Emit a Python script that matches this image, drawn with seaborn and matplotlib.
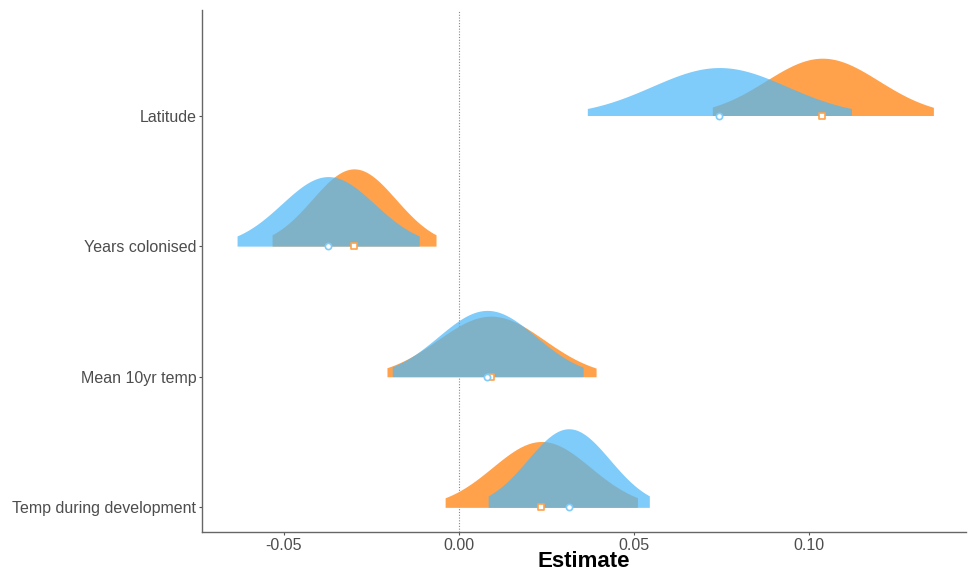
import numpy as np
import pandas as pd
import matplotlib
matplotlib.use("Agg")
import matplotlib.pyplot as plt
import seaborn as sns

# terms, top to bottom
terms = ["Latitude", "Years colonised", "Mean 10yr temp", "Temp during development"]

# model 1 (orange): estimate and 95% interval
orange_est = [0.1037, -0.0300, 0.0091, 0.0235]
orange_lo = [0.0723, -0.0534, -0.0206, -0.0040]
orange_hi = [0.1354, -0.0066, 0.0391, 0.0509]

# model 2 (blue): estimate and 95% interval
blue_est = [0.0743, -0.0374, 0.0080, 0.0313]
blue_lo = [0.0366, -0.0634, -0.0191, 0.0083]
blue_hi = [0.1120, -0.0114, 0.0354, 0.0543]

x_ticks = [-0.05, 0.00, 0.05, 0.10]
x_ticklabels = ["-0.05", "0.00", "0.05", "0.10"]

sns.set_theme(style="white")
plt.rcParams['font.family'] = ['Liberation Sans', 'DejaVu Sans']

fig = plt.figure(figsize=(9.69, 5.71), dpi=100)
ax = fig.add_axes([0.2085, 0.068, 0.788, 0.915])

n = len(terms)
ypos = {t: n - 1 - i for i, t in enumerate(terms)}
scale = 0.0177

models = [
    ("orange", orange_est, orange_lo, orange_hi, "#FFA24B", 1.0, "s", "#FFA24B"),
    ("blue", blue_est, blue_lo, blue_hi, (78 / 255, 183 / 255, 248 / 255), 0.72, "o", "#7FCBFB"),
]

points = []
for name, est, lo, hi, fc, alpha, mk, ec in models:
    for t, m, l, h in zip(terms, est, lo, hi):
        sd = (h - l) / (2 * 1.96)
        xs = np.linspace(l, h, 300)
        dens = np.exp(-0.5 * ((xs - m) / sd) ** 2) / (sd * np.sqrt(2 * np.pi))
        y0 = ypos[t]
        ax.fill_between(xs, y0, y0 + dens * scale, color=fc, alpha=alpha,
                        linewidth=0, zorder=2)
        points.append({"model": name, "term": t, "est": m, "y": y0})

pts = pd.DataFrame(points)
for name, est, lo, hi, fc, alpha, mk, ec in models:
    sub = pts[pts["model"] == name]
    sns.scatterplot(data=sub, x="est", y="y", marker=mk, s=20, color="white",
                    edgecolor=ec, linewidth=1.2, ax=ax, zorder=5, legend=False)

ax.axvline(0, color="#888888", linestyle=(0, (1, 1.5)), linewidth=0.8, zorder=1)

ax.set_xlim(-0.0734, 0.1446)
ax.set_ylim(-0.19, 3.81)
ax.set_yticks([ypos[t] for t in terms])
ax.set_yticklabels(terms)
ax.set_xticks(x_ticks)
ax.set_xticklabels(x_ticklabels)
ax.tick_params(axis="both", labelsize=11.5, labelcolor="#4D4D4D", color="#555555",
               length=2.5, width=0.8, left=True, bottom=True, pad=1.5)
ax.set_xlabel("Estimate", fontsize=16, fontweight="bold", color="black", labelpad=-1)
ax.set_ylabel("")

for side in ["top", "right"]:
    ax.spines[side].set_visible(False)
for side in ["left", "bottom"]:
    ax.spines[side].set_color("#666666")
    ax.spines[side].set_linewidth(1.0)

fig.savefig("out.png", dpi=100)
